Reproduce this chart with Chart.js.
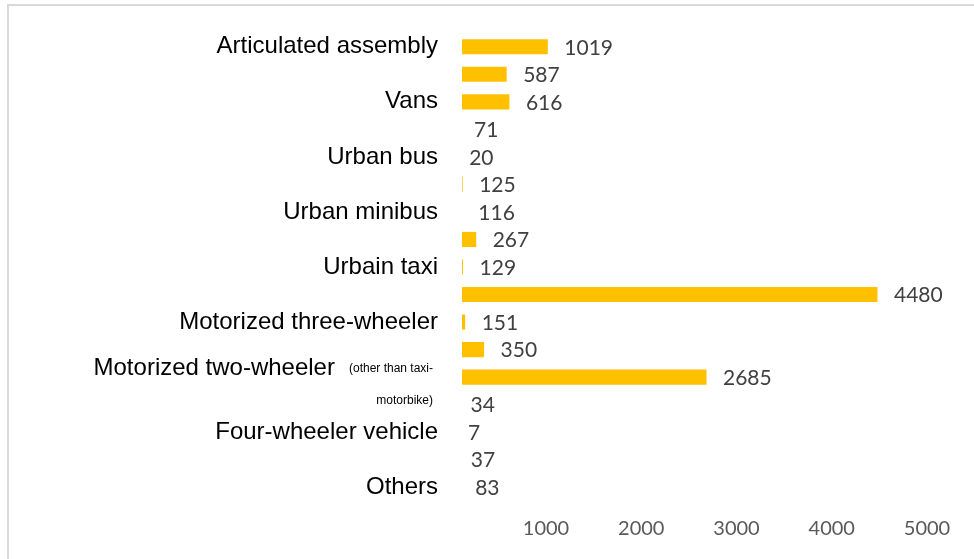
<!DOCTYPE html>
<html>
<head>
<meta charset="utf-8">
<script src="https://cdn.jsdelivr.net/npm/chart.js@4.4.1/dist/chart.umd.min.js"></script>
<style>
  html, body { margin: 0; padding: 0; background: #fff; }
  #wrap { position: relative; width: 974px; height: 559px; }
</style>
</head>
<body>
<div id="wrap"><canvas id="vehicleChart" width="974" height="559"></canvas></div>
<script>
// vehicle types, one label for every second bar
const vehicleTypes = ['Articulated assembly', 'Vans', 'Urban bus', 'Urban minibus', 'Urbain taxi',
  'Motorized three-wheeler', 'Motorized two-wheeler', 'Four-wheeler vehicle', 'Others'];
const twoWheelerNote = ['(other than taxi-', 'motorbike)'];
// bar values, top to bottom
const values = [1019, 587, 616, 71, 20, 125, 116, 267, 129, 4480, 151, 350, 2685, 34, 7, 37, 83];
const xTicks = [1000, 2000, 3000, 4000, 5000];
const xMin = 118;
const xMax = 5000;

const labels = values.map((v, i) => (i % 2 === 0 ? vehicleTypes[i / 2] : ''));
const noteIndex = labels.indexOf('Motorized two-wheeler');

// frame lines (top + left) like the exported chart
const framePlugin = {
  id: 'frame',
  beforeDraw(chart) {
    const ctx = chart.ctx;
    ctx.save();
    ctx.fillStyle = '#fff';
    ctx.fillRect(0, 0, chart.width, chart.height);
    ctx.strokeStyle = '#d9d9d9';
    ctx.lineWidth = 2;
    ctx.beginPath();
    ctx.moveTo(8, chart.height);
    ctx.lineTo(8, 5);
    ctx.lineTo(chart.width, 5);
    ctx.stroke();
    ctx.restore();
  }
};

// value labels just past the end of each bar
const valueLabels = {
  id: 'valueLabels',
  afterDatasetsDraw(chart) {
    const ctx = chart.ctx;
    const x = chart.scales.x;
    const y = chart.scales.y;
    ctx.save();
    ctx.font = '21px Lato';
    ctx.fillStyle = '#404040';
    ctx.textAlign = 'left';
    ctx.textBaseline = 'middle';
    values.forEach((v, i) => {
      ctx.fillText(String(v), x.getPixelForValue(v) + 16.5, y.getPixelForValue(i) + 1);
    });
    ctx.restore();
  }
};

// two-wheeler label has a smaller note after it
const noteLabel = {
  id: 'noteLabel',
  afterDraw(chart) {
    const ctx = chart.ctx;
    const y = chart.scales.y;
    const py = y.getPixelForValue(noteIndex);
    const right = chart.chartArea.left - 29;
    ctx.save();
    ctx.fillStyle = '#000';
    ctx.textAlign = 'right';
    ctx.textBaseline = 'middle';
    ctx.font = '12px "Liberation Sans"';
    ctx.fillText(twoWheelerNote[0], right, py - 8);
    ctx.fillText(twoWheelerNote[1], right, py + 24);
    const noteW = ctx.measureText(twoWheelerNote[0]).width;
    ctx.font = '24px "Liberation Sans"';
    ctx.fillText(vehicleTypes[6], right - noteW - 14, py - 9);
    ctx.restore();
  }
};

new Chart(document.getElementById('vehicleChart'), {
  type: 'bar',
  data: {
    labels: labels,
    datasets: [{
      data: values,
      backgroundColor: '#FFC000',
      borderWidth: 0,
      barPercentage: 0.55,
      categoryPercentage: 1
    }]
  },
  options: {
    indexAxis: 'y',
    responsive: false,
    animation: false,
    layout: { padding: { top: 33, right: 47, bottom: 18, left: 0 } },
    plugins: {
      legend: { display: false },
      tooltip: { enabled: false }
    },
    scales: {
      x: {
        type: 'linear',
        min: xMin,
        max: xMax,
        grid: { display: false, drawTicks: false },
        border: { display: false },
        afterBuildTicks: (scale) => { scale.ticks = xTicks.map(v => ({ value: v })); },
        afterFit: (scale) => { scale.height = 40; },
        ticks: {
          padding: 16,
          color: '#595959',
          font: { family: 'Lato', size: 20 },
          callback: (val) => String(val)
        }
      },
      y: {
        grid: { display: false, drawTicks: false },
        border: { display: false },
        afterFit: (scale) => {
          scale.width = 462;
          scale.paddingTop = 0;
          scale.paddingBottom = 0;
        },
        ticks: {
          autoSkip: false,
          padding: 24,
          color: '#000',
          font: { family: '"Liberation Sans"', size: 24 },
          callback: (val, i) => (i === noteIndex ? '' : labels[i])
        }
      }
    }
  },
  plugins: [framePlugin, valueLabels, noteLabel]
});
</script>
</body>
</html>
